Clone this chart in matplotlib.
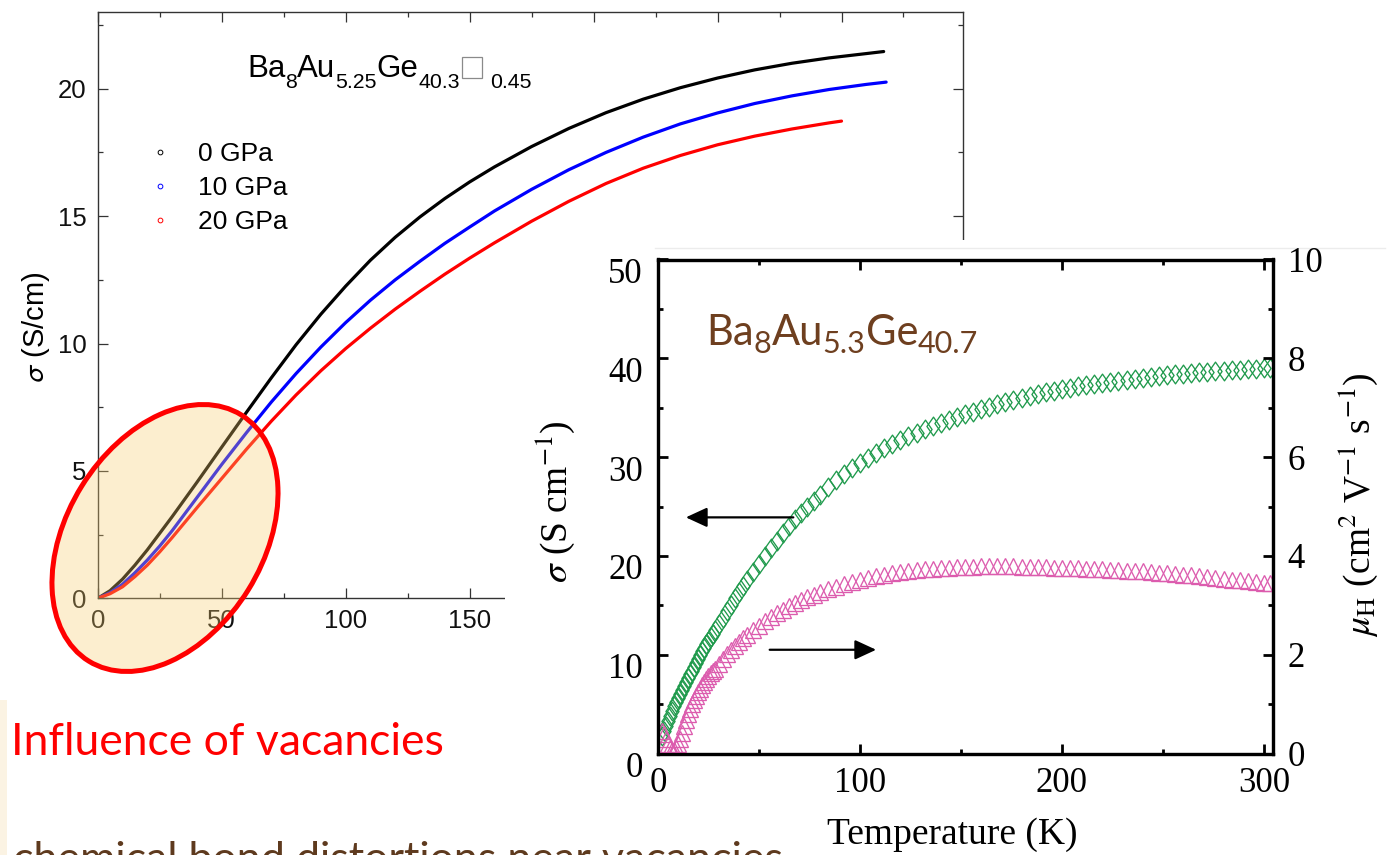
import matplotlib
matplotlib.use("Agg")
import matplotlib.pyplot as plt
from matplotlib.patches import Ellipse, Rectangle
from matplotlib.lines import Line2D
from matplotlib.path import Path
from matplotlib.transforms import ScaledTranslation

# ---------------------------------------------------------------- data
# Ba8Au5.25Ge40.3 (vacancy) conductivity under pressure, T in K, sigma in S/cm
T_0gpa = [0, 5, 10, 15, 20, 25, 30, 40, 50, 60, 70, 80, 90, 100, 110, 120, 130, 140,
          150, 160, 175, 190, 205, 220, 235, 250, 265, 280, 295, 310, 317]
S_0gpa = [0, 0.3, 0.75, 1.3, 1.9, 2.55, 3.2, 4.55, 5.93, 7.3, 8.65, 9.95, 11.15, 12.25,
          13.27, 14.17, 14.97, 15.69, 16.34, 16.93, 17.73, 18.44, 19.06, 19.59, 20.04,
          20.42, 20.74, 21.0, 21.21, 21.38, 21.46]
T_10gpa = [0, 5, 10, 15, 20, 25, 30, 40, 50, 60, 70, 80, 90, 100, 110, 120, 130, 140,
           150, 160, 175, 190, 205, 220, 235, 250, 265, 280, 295, 310, 318]
S_10gpa = [0, 0.22, 0.55, 1.0, 1.5, 2.05, 2.65, 3.95, 5.25, 6.5, 7.7, 8.82, 9.86, 10.82,
           11.7, 12.5, 13.23, 13.93, 14.57, 15.2, 16.05, 16.82, 17.5, 18.1, 18.62, 19.05,
           19.42, 19.72, 19.97, 20.17, 20.26]
T_20gpa = [0, 5, 10, 15, 20, 25, 30, 40, 50, 60, 70, 80, 90, 100, 110, 120, 130, 140,
           150, 160, 175, 190, 205, 220, 235, 250, 265, 280, 295, 300]
S_20gpa = [0, 0.18, 0.45, 0.85, 1.3, 1.82, 2.38, 3.55, 4.7, 5.85, 6.95, 7.98, 8.93, 9.8,
           10.6, 11.35, 12.05, 12.72, 13.35, 13.95, 14.8, 15.58, 16.28, 16.88, 17.38, 17.8,
           18.14, 18.42, 18.66, 18.73]
pressure_labels = ["0 GPa", "10 GPa", "20 GPa"]
pressure_colors = ["black", "blue", "red"]

# Ba8Au5.3Ge40.7: conductivity (S/cm) and Hall mobility (cm2/Vs) vs T (K)
sigma_points = [
    (2, 1.8), (3, 2.3), (4, 2.8), (5, 3.3), (6, 3.8), (7, 4.3), (8, 4.8), (9, 5.2),
    (10, 5.6), (11, 6.0), (12, 6.4), (13, 6.8), (14, 7.2), (15, 7.6), (16, 8.0),
    (17, 8.4), (18, 8.8), (19, 9.2), (20, 9.6), (21, 10.0), (22, 10.35), (23, 10.7),
    (24, 11.05), (25, 11.4), (26, 11.75), (27, 12.1), (28, 12.45), (30, 13.1),
    (32, 13.75), (34, 14.4), (36, 15.05), (38, 15.7), (40, 16.35), (42, 16.95),
    (44, 17.55), (47, 18.4), (50, 19.2), (53, 20.0), (56, 20.8), (59, 21.55),
    (62, 22.3), (65, 23.0), (68, 23.7), (71, 24.35), (74, 25.0), (77, 25.6), (80, 26.2),
    (84, 26.95), (88, 27.65), (92, 28.3), (96, 28.9), (100, 29.45), (104, 29.95),
    (108, 30.45), (112, 30.9), (116, 31.3), (120, 31.7), (124, 32.1), (128, 32.45),
    (132, 32.8), (136, 33.15), (140, 33.45), (144, 33.75), (148, 34.05), (152, 34.35),
    (156, 34.6), (160, 34.85), (164, 35.1), (168, 35.35), (172, 35.6), (176, 35.8),
    (180, 36.0), (184, 36.2), (188, 36.4), (192, 36.55), (196, 36.7), (200, 36.85),
    (204, 37.0), (208, 37.15), (212, 37.3), (216, 37.4), (220, 37.55), (224, 37.65),
    (228, 37.75), (232, 37.85), (236, 37.95), (240, 38.05), (244, 38.15), (248, 38.25),
    (252, 38.3), (256, 38.4), (260, 38.45), (264, 38.55), (268, 38.6), (272, 38.65),
    (276, 38.7), (280, 38.75), (284, 38.8), (288, 38.85), (292, 38.9), (296, 38.95),
    (300, 39.0), (303, 39.05)]
mobility_points = [
    (2, 0.45), (3, 0.4), (4, 0.3), (5, 0.2), (6, 0.12), (7, 0.08), (8, 0.08), (9, 0.12),
    (10, 0.2), (11, 0.3), (12, 0.42), (13, 0.55), (14, 0.68), (15, 0.8), (16, 0.9),
    (17, 1.0), (18, 1.08), (19, 1.16), (20, 1.24), (21, 1.31), (22, 1.38), (23, 1.44),
    (24, 1.5), (25, 1.56), (26, 1.62), (27, 1.67), (28, 1.72), (30, 1.82), (32, 1.92),
    (34, 2.01), (36, 2.1), (38, 2.18), (40, 2.26), (42, 2.33), (44, 2.4), (47, 2.5),
    (50, 2.59), (53, 2.68), (56, 2.76), (59, 2.84), (62, 2.91), (65, 2.98), (68, 3.04),
    (71, 3.1), (74, 3.16), (77, 3.21), (80, 3.26), (84, 3.32), (88, 3.38), (92, 3.43),
    (96, 3.48), (100, 3.52), (104, 3.56), (108, 3.59), (112, 3.62), (116, 3.65),
    (120, 3.67), (124, 3.69), (128, 3.71), (132, 3.73), (136, 3.74), (140, 3.75),
    (144, 3.76), (148, 3.77), (152, 3.78), (156, 3.78), (160, 3.79), (164, 3.79),
    (168, 3.79), (172, 3.79), (176, 3.79), (180, 3.78), (184, 3.78), (188, 3.77),
    (192, 3.77), (196, 3.76), (200, 3.76), (204, 3.75), (208, 3.75), (212, 3.74),
    (216, 3.73), (220, 3.73), (224, 3.72), (228, 3.71), (232, 3.70), (236, 3.70),
    (240, 3.69), (244, 3.68), (248, 3.66), (252, 3.65), (256, 3.64), (260, 3.62),
    (264, 3.61), (268, 3.59), (272, 3.58), (276, 3.56), (280, 3.54), (284, 3.52),
    (288, 3.51), (292, 3.49), (296, 3.47), (300, 3.46), (303, 3.45)]

left_xticks = [0, 50, 100, 150, 200, 250, 300]
left_yticks = [0, 5, 10, 15, 20]
right_xticks = [0, 100, 200, 300]
right_yticks = [0, 10, 20, 30, 40, 50]
mobility_ticks = [0, 2, 4, 6, 8, 10]

# ---------------------------------------------------------------- figure
W, H = 1389, 855
fig = plt.figure(figsize=(W / 100, H / 100), dpi=100)
plt.rcParams["font.family"] = ["Liberation Sans", "DejaVu Sans"]


def frac(x0, y0, x1, y1):
    """pixel box (top-left origin) -> figure fraction rect"""
    return [x0 / W, 1 - y1 / H, (x1 - x0) / W, (y1 - y0) / H]


# ---------------------------------------------------------------- left panel
axL = fig.add_axes(frac(97.7, 12.3, 963, 598.3), zorder=1)
series = [(T_0gpa, S_0gpa), (T_10gpa, S_10gpa), (T_20gpa, S_20gpa)]
for (T, S), c in zip(series, pressure_colors):
    axL.plot(T, S, color=c, lw=2.3, solid_capstyle="round", solid_joinstyle="round")
axL.set_xlim(0, 349)
axL.set_ylim(0, 23)
axL.set_xticks(left_xticks)
axL.set_yticks(left_yticks)
axL.set_xticks(range(25, 350, 50), minor=True)
axL.set_yticks([2.5, 7.5, 12.5, 17.5, 22.5], minor=True)
axL.tick_params(which="both", direction="in", top=True, right=True, colors="#333333",
                width=0.9, labelsize=18.5, labelcolor="#111111")
axL.tick_params(which="major", length=7.5, pad=8)
axL.tick_params(which="minor", length=3.5)
for sp in axL.spines.values():
    sp.set_color("#333333")
    sp.set_linewidth(1.0)
axL.set_ylabel(r"$\sigma$ (S/cm)", fontsize=21, math_fontfamily="stixsans")
axL.yaxis.set_label_coords(-0.071, 0.463)
axL.yaxis.label.set_va("center")

handles = [Line2D([], [], ls="none", marker="o", ms=3.4, mfc="none", mec=c, mew=0.7)
           for c in pressure_colors]
axL.legend(handles, pressure_labels, loc="upper left", bbox_to_anchor=(0.0628, 0.779),
           frameon=False, fontsize=19, handlelength=0.6, handletextpad=1.14,
           labelspacing=0.38, borderpad=0, borderaxespad=0)

# ---------------------------------------------------------------- backing sheet of the inset
axBG = fig.add_axes([0, 0, 1, 1], zorder=2)
axBG.set_xlim(0, W)
axBG.set_ylim(H, 0)
axBG.axis("off")
axBG.patch.set_visible(False)
axBG.add_patch(Rectangle((505, 240), W - 505, H - 240, facecolor="white", edgecolor="none"))
axBG.plot([655, 1385], [248, 248], color="#ececec", lw=1.0)

# ---------------------------------------------------------------- right panel
green = "#1f9a4c"
pink = "#dc5cae"
diamond = Path([(0, 1), (0.7, 0), (0, -1), (-0.7, 0), (0, 1)],
               [Path.MOVETO, Path.LINETO, Path.LINETO, Path.LINETO, Path.CLOSEPOLY])

axR = fig.add_axes(frac(658, 259.5, 1273, 753.5), zorder=3)
axR.patch.set_visible(False)
Ts, Ss = zip(*sigma_points)
axR.plot(Ts, Ss, ls="none", marker=diamond, ms=13.5, mfc="none", mec=green, mew=0.95)
axR.set_xlim(0, 304.5)
axR.set_ylim(0, 50)
axR.set_xticks(right_xticks)
axR.set_yticks(right_yticks)
axR.set_xticks([50, 150, 250], minor=True)
axR.set_yticks([5, 15, 25, 35, 45], minor=True)
axR.tick_params(which="both", direction="in", top=True, right=False, width=2.0,
                labelsize=25, labelfontfamily="Liberation Serif")
axR.tick_params(which="major", length=7)
axR.tick_params(which="minor", length=3.5)
axR.tick_params(axis="x", pad=10)
axR.tick_params(axis="y", pad=11)
for sp in axR.spines.values():
    sp.set_linewidth(2.3)
for lab in axR.get_yticklabels():
    lab.set_transform(lab.get_transform() + ScaledTranslation(0, -0.11, fig.dpi_scale_trans))

ax2 = axR.twinx()
ax2.set_zorder(3.5)
ax2.patch.set_visible(False)
Tm, Mm = zip(*mobility_points)
ax2.plot(Tm, Mm, ls="none", marker="^", ms=11.5, mfc="none", mec=pink, mew=0.95)
ax2.set_ylim(0, 10)
ax2.set_yticks(mobility_ticks)
ax2.set_yticks([1, 3, 5, 7, 9], minor=True)
ax2.tick_params(which="both", direction="in", width=2.0, labelsize=25,
                labelfontfamily="Liberation Serif", pad=10.5)
ax2.tick_params(which="major", length=7)
ax2.tick_params(which="minor", length=3.5)
for sp in ax2.spines.values():
    sp.set_linewidth(2.3)

serif = dict(fontfamily="Liberation Serif", math_fontfamily="stix", fontsize=27)
axR.set_xlabel("Temperature (K)", **serif)
axR.xaxis.set_label_coords(0.478, -0.165)
axR.xaxis.label.set_va("center")
axR.set_ylabel(r"$\sigma$ (S cm$^{-1}$)", **serif)
axR.yaxis.set_label_coords(-0.1675, 0.509)
axR.yaxis.label.set_va("center")
ax2.set_ylabel(r"$\mu_{\rm H}$ (cm$^{2}$ V$^{-1}$ s$^{-1}$)", **serif)
ax2.yaxis.set_label_coords(1.138, 0.503)
ax2.yaxis.label.set_va("center")

arrow = dict(arrowstyle="-|>,head_length=1.3,head_width=0.6", color="black", lw=1.6,
             shrinkA=0, shrinkB=0, mutation_scale=10)
axR.annotate("", xy=(13.8, 23.9), xytext=(67, 23.9), arrowprops=arrow)
axR.annotate("", xy=(108, 10.5), xytext=(55.3, 10.5), arrowprops=arrow)

# ---------------------------------------------------------------- slide overlay
axO = fig.add_axes([0, 0, 1, 1], zorder=4)
axO.set_xlim(0, W)
axO.set_ylim(H, 0)
axO.axis("off")
axO.patch.set_visible(False)

renderer = fig.canvas.get_renderer()


def rich(x, y, parts, **kw):
    """write (text, size, drop) pieces one after another on a common baseline"""
    for s, size, dy in parts:
        t = axO.text(x, y + dy, s, fontsize=size, ha="left", va="baseline", **kw)
        x += t.get_window_extent(renderer).width
    return x


x_end = rich(247, 77.3, [("Ba", 22.5, 0), ("8", 15.3, 11), ("Au", 22.5, 0),
                         ("5.25", 15.3, 11), ("Ge", 22.5, 0), ("40.3", 15.3, 11)],
             fontfamily="Liberation Sans", color="black")
axO.add_patch(Rectangle((x_end + 2, 56.7), 20, 21.6, facecolor="none",
                        edgecolor="#8a8a8a", lw=0.9))
rich(x_end + 30, 77.3, [("0.45", 15.3, 11)], fontfamily="Liberation Sans", color="black")

brown = "#6e3f1f"
rich(706, 345, [("Ba", 30, 0), ("8", 22, 8), ("Au", 30, 0), ("5.3", 22, 8),
                ("Ge", 30, 0), ("40.7", 22, 8)], fontfamily="Lato", color=brown)

axO.add_patch(Ellipse((165, 538), 289.6, 196.2, angle=-58.2,
                      facecolor=(0.97, 0.80, 0.43, 0.33), edgecolor="#ff0000", lw=3.6))

axO.add_patch(Rectangle((0, 700), 7, 155, facecolor="#fbf3e3", edgecolor="none"))
axO.text(11, 755, "Influence of vacancies", fontsize=32, fontfamily="Lato",
         color="#ff0000", ha="left", va="baseline")
axO.text(13, 872, "chemical bond distortions near vacancies", fontsize=31,
         fontfamily="Lato", color="#5e3a1e", ha="left", va="baseline", clip_on=False)

fig.savefig("out.png", dpi=100)
